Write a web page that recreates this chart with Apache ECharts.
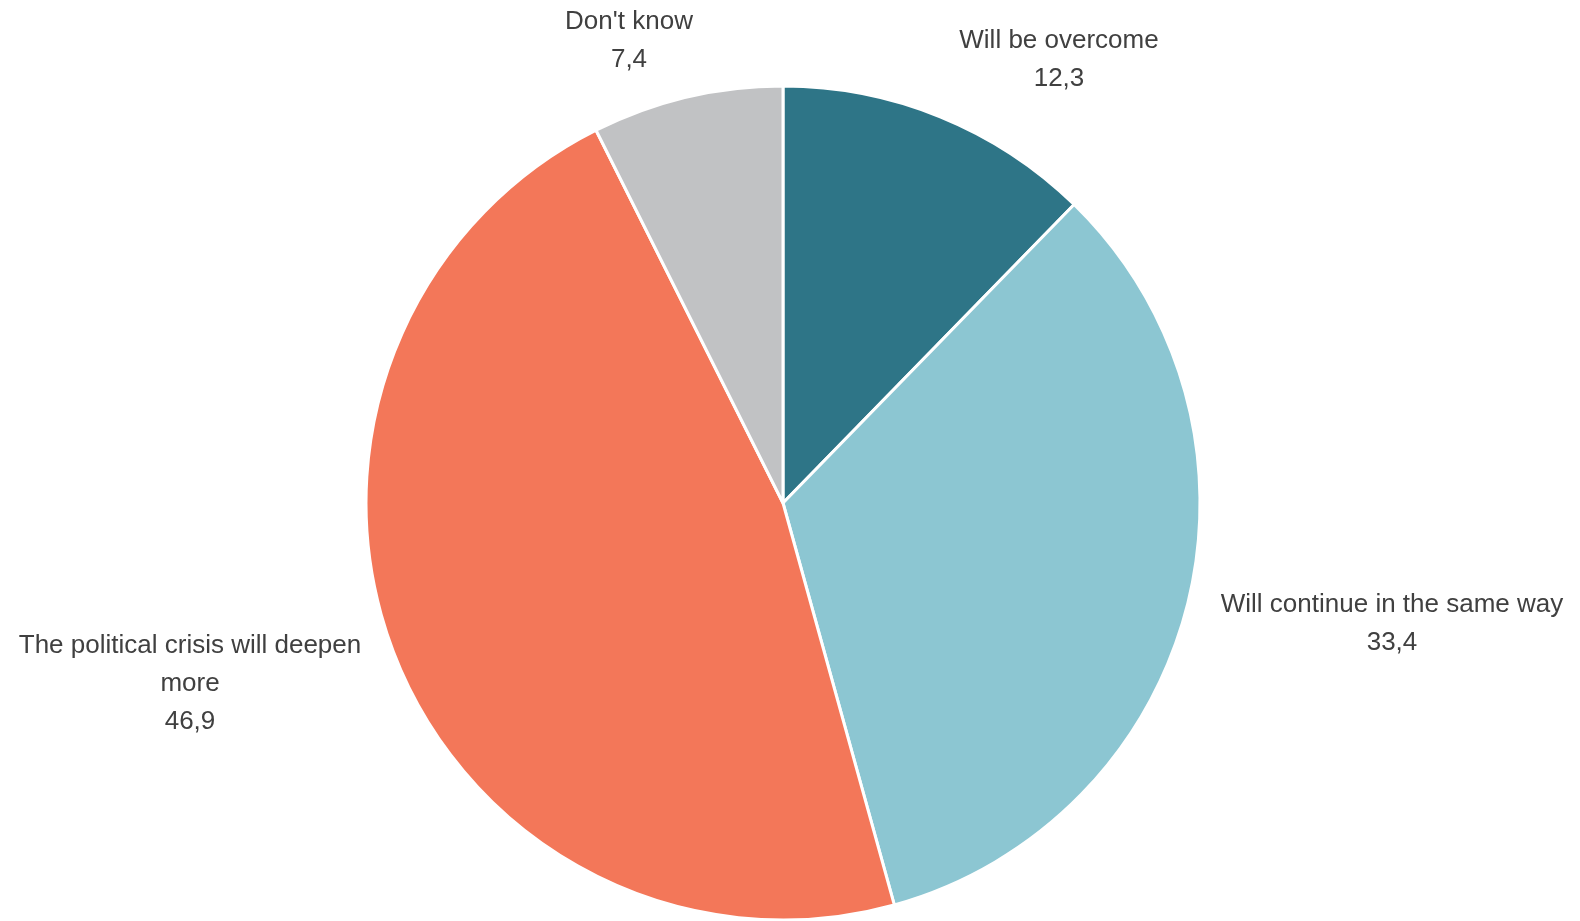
<!DOCTYPE html>
<html><head><meta charset="utf-8">
<script src="https://cdn.jsdelivr.net/npm/echarts@6/dist/echarts.min.js"></script>
<style>html,body{margin:0;padding:0;background:#fff}#c{width:1580px;height:921px}</style>
</head><body><div id="c"></div>
<script>
var categories = ["Will be overcome", "Will continue in the same way", "The political crisis will deepen more", "Don't know"];
var values = [12.3, 33.4, 46.9, 7.4];
var colors = ["#2E7587", "#8CC6D2", "#F37759", "#C1C2C4"];
// label anchor positions (centre of text block), layout only
var labelPos = [[1059, 60], [1392, 624], [190, 684], [629, 41]];

var chart = echarts.init(document.getElementById('c'), null, {renderer: 'canvas'});
chart.setOption({
  animation: false,
  series: [{
    type: 'pie',
    center: [783, 503],
    radius: [0, 417],
    startAngle: 90,
    clockwise: true,
    avoidLabelOverlap: false,
    data: categories.map(function (n, i) {
      return {name: n, value: values[i], itemStyle: {color: colors[i]}};
    }),
    itemStyle: {borderColor: '#ffffff', borderWidth: 3},
    label: {
      show: true,
      position: 'outside',
      fontFamily: '"Liberation Sans Narrow", "Arial Narrow", "Liberation Sans", Arial, sans-serif',
      fontSize: 26,
      lineHeight: 38,
      color: '#404040',
      align: 'center',
      formatter: function (p) {
        var name = p.name;
        if (p.dataIndex === 2) name = 'The political crisis will deepen\nmore';
        return name + '\n' + String(p.value).replace('.', ',');
      }
    },
    labelLine: {show: false},
    labelLayout: function (params) {
      var pos = labelPos[params.dataIndex];
      return {x: pos[0], y: pos[1], align: 'center', verticalAlign: 'middle', hideOverlap: false};
    },
    emphasis: {disabled: true}
  }]
});
</script></body></html>
